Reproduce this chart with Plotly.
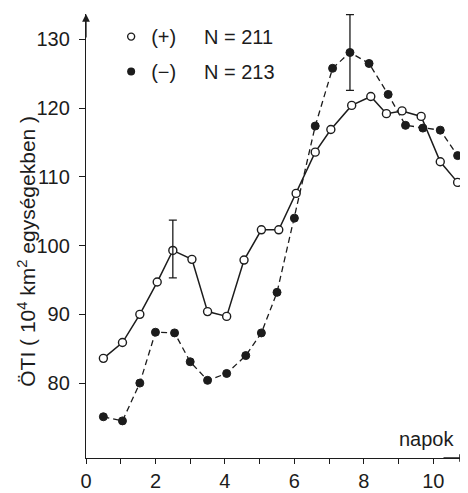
import plotly.graph_objects as go

# (+) series, open circles, solid line
x_plus = [0.5, 1.05, 1.55, 2.05, 2.5, 3.05, 3.5, 4.05, 4.55, 5.05, 5.55, 6.05, 6.6, 7.05, 7.65, 8.2, 8.65, 9.1, 9.65, 10.2, 10.7]
y_plus = [83.6, 85.9, 90.0, 94.7, 99.3, 98.0, 90.4, 89.7, 97.9, 102.3, 102.3, 107.6, 113.6, 116.9, 120.4, 121.7, 119.2, 119.6, 118.8, 112.2, 109.2]

# (-) series, filled circles, dashed line
x_minus = [0.5, 1.05, 1.55, 2.0, 2.55, 3.0, 3.5, 4.05, 4.6, 5.05, 5.5, 6.0, 6.6, 7.1, 7.6, 8.15, 8.7, 9.2, 9.7, 10.2, 10.7]
y_minus = [75.1, 74.5, 80.0, 87.4, 87.3, 83.1, 80.4, 81.4, 84.0, 87.3, 93.2, 104.0, 117.4, 125.8, 128.1, 126.5, 122.0, 117.5, 117.1, 116.8, 113.1]

# error bars
err_x = [2.5, 7.6]
err_y = [99.5, 128.1]
err_v = [4.2, 5.5]

legend_names = ["(+)\u00a0\u00a0\u00a0\u00a0 N = 211", "(\u2212)\u00a0\u00a0\u00a0\u00a0 N = 213"]

yticks = [80, 90, 100, 110, 120, 130]
xticks = list(range(0, 11))
xticktext = [str(v) if v % 2 == 0 else "" for v in xticks]

INK = "#1c1c1c"
FONT = "Liberation Sans, Arial, sans-serif"

fig = go.Figure()
fig.add_trace(go.Scatter(
    x=x_minus, y=y_minus, mode="lines+markers", showlegend=False,
    line=dict(color=INK, width=1.3, dash="6px,4px"),
    marker=dict(symbol="circle", size=8, color=INK, line=dict(color=INK, width=1))))
fig.add_trace(go.Scatter(
    x=x_plus, y=y_plus, mode="lines+markers", showlegend=False,
    line=dict(color=INK, width=1.5),
    marker=dict(symbol="circle", size=8, color="white", line=dict(color=INK, width=1.4))))
fig.add_trace(go.Scatter(
    x=err_x, y=err_y, mode="markers", showlegend=False, hoverinfo="skip",
    marker=dict(size=1, color="rgba(0,0,0,0)"),
    error_y=dict(type="data", array=err_v, symmetric=True, color=INK, thickness=1.3, width=4)))
# legend-only traces
fig.add_trace(go.Scatter(
    x=[None], y=[None], mode="markers", name=legend_names[0], legendgroup="a",
    marker=dict(symbol="circle", size=7, color="white", line=dict(color=INK, width=1.4))))
fig.add_trace(go.Scatter(
    x=[None], y=[None], mode="markers", name=legend_names[1], legendgroup="b",
    marker=dict(symbol="circle", size=8, color=INK)))

fig.update_layout(
    width=460, height=485,
    margin=dict(l=78, r=1, t=6, b=28),
    paper_bgcolor="white", plot_bgcolor="white",
    font=dict(family=FONT, size=20, color=INK),
    legend=dict(x=0.066, y=0.993, xanchor="left", yanchor="top",
                bgcolor="rgba(0,0,0,0)", tracegroupgap=6,
                font=dict(size=20, color=INK)),
    xaxis=dict(range=[0, 10.97], showgrid=False, zeroline=False,
               showline=True, linecolor=INK, linewidth=1.3,
               tickmode="array", tickvals=xticks, ticktext=xticktext,
               ticks="outside", ticklen=5, tickwidth=1.2, tickcolor=INK,
               tickfont=dict(size=20, color=INK)),
    yaxis=dict(range=[69.1, 133.7], showgrid=False, zeroline=False,
               showline=True, linecolor=INK, linewidth=1.3,
               tickmode="array", tickvals=yticks,
               ticks="outside", ticklen=6, tickwidth=1.2, tickcolor=INK,
               ticklabelstandoff=5,
               tickfont=dict(size=20, color=INK)),
)

# axis arrows
fig.add_annotation(x=0, y=1, xref="paper", yref="paper", ax=0, ay=25,
                   showarrow=True, arrowhead=2, arrowsize=1.2, arrowwidth=1.3,
                   arrowcolor=INK, text="")
fig.add_annotation(x=1, y=0, xref="paper", yref="paper", ax=-25, ay=0,
                   showarrow=True, arrowhead=2, arrowsize=1.2, arrowwidth=1.3,
                   arrowcolor=INK, text="")
# axis titles
fig.add_annotation(x=0.971, y=0.013, xref="paper", yref="paper", xanchor="right", yanchor="bottom",
                   text="napok", showarrow=False, font=dict(size=20, color=INK))
fig.add_annotation(x=-0.157, y=0.465, xref="paper", yref="paper", textangle=-90,
                   xanchor="center", yanchor="middle",
                   text="ÖTI ( 10<sup>4</sup> km<sup>2</sup> egységekben )", showarrow=False,
                   font=dict(size=21, color=INK))

fig.write_html("out.html")
